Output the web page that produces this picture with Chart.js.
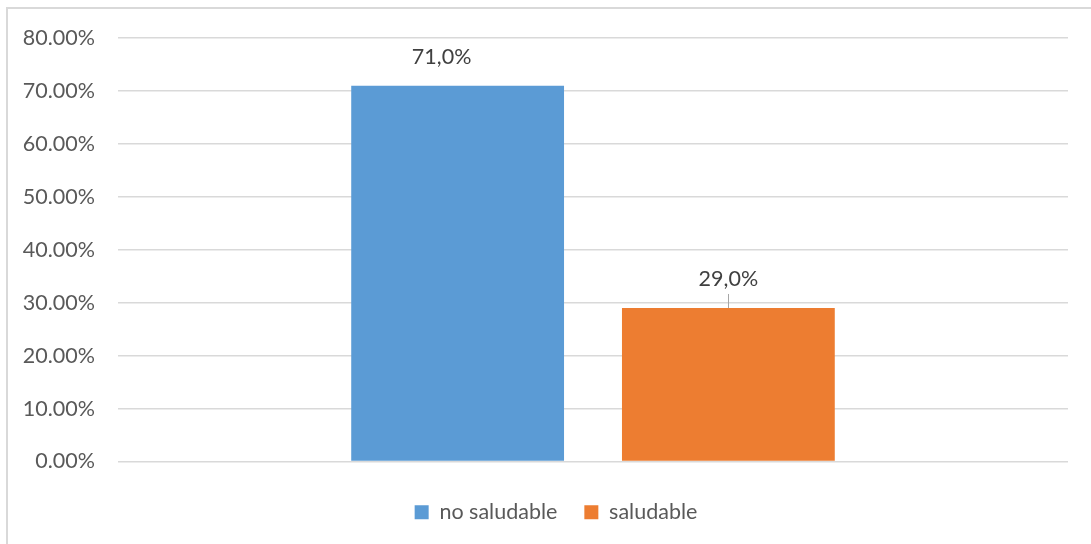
<!DOCTYPE html>
<html>
<head>
<meta charset="utf-8">
<script src="https://cdn.jsdelivr.net/npm/chart.js@4"></script>
<style>
  html, body { margin: 0; padding: 0; background: #fff; }
  #wrap { position: relative; width: 1091px; height: 544px; }
</style>
</head>
<body>
<div id="wrap"><canvas id="grafico"></canvas></div>
<script>
// datos del gráfico
const categorias = [''];
const series = ['no saludable', 'saludable'];
const valores = [71.0, 29.0];
const colores = ['#5b9bd5', '#ed7d31'];
const ejeY = { min: 0, max: 80, paso: 10 };

const fuente = 'Lato, "Liberation Sans", sans-serif';
const tam = 21.5;

// etiqueta con coma decimal: 71,0%
const formato = (v) => v.toFixed(1).replace('.', ',') + '%';

// marco gris arriba y a la izquierda
const marco = {
  id: 'marco',
  beforeDraw(chart) {
    const c = chart.ctx;
    c.save();
    c.strokeStyle = '#d9d9d9';
    c.lineWidth = 2;
    c.beginPath();
    c.moveTo(7, chart.height);
    c.lineTo(7, 8);
    c.lineTo(chart.width, 8);
    c.stroke();
    c.restore();
  },
  // la leyenda se centra un poco más a la derecha
  afterLayout(chart) {
    chart.legend.left += 44;
  }
};

// etiquetas de valor encima de cada barra
const etiquetas = {
  id: 'etiquetas',
  afterDatasetsDraw(chart) {
    const c = chart.ctx;
    c.save();
    c.font = tam + 'px ' + fuente;
    c.fillStyle = '#404040';
    c.textAlign = 'center';
    c.textBaseline = 'middle';
    chart.data.datasets.forEach((ds, i) => {
      chart.getDatasetMeta(i).data.forEach((bar, j) => {
        const dx = ds.desplazaX || 0;
        const y = bar.y - 29;
        c.fillText(formato(ds.data[j]), bar.x + dx, y);
        if (ds.guia) {
          // pequeña línea guía hasta la barra
          c.strokeStyle = '#a6a6a6';
          c.lineWidth = 1;
          c.beginPath();
          c.moveTo(Math.round(bar.x) + 0.5, y + 15);
          c.lineTo(Math.round(bar.x) + 0.5, bar.y);
          c.stroke();
        }
      });
    });
    c.restore();
  }
};

new Chart(document.getElementById('grafico'), {
  type: 'bar',
  data: {
    labels: categorias,
    datasets: series.map((nombre, i) => ({
      label: nombre,
      data: [valores[i]],
      backgroundColor: colores[i],
      categoryPercentage: 0.57,
      barPercentage: 0.786,
      desplazaX: i === 0 ? -16 : 0,
      guia: i === 1
    }))
  },
  options: {
    responsive: true,
    maintainAspectRatio: false,
    animation: false,
    layout: { padding: { top: 38, right: 23, left: 0, bottom: 11 } },
    plugins: {
      tooltip: { enabled: false },
      legend: {
        position: 'bottom',
        labels: {
          boxWidth: 14,
          boxHeight: 14,
          padding: 27,
          color: '#595959',
          font: { family: fuente, size: tam }
        }
      }
    },
    scales: {
      x: {
        grid: { display: false },
        border: { display: false },
        ticks: { display: false },
        afterFit: (s) => { s.height = 13; }
      },
      y: {
        min: ejeY.min,
        max: ejeY.max,
        ticks: {
          stepSize: ejeY.paso,
          padding: 23,
          color: '#595959',
          font: { family: fuente, size: tam },
          callback: (v) => v.toFixed(2) + '%'
        },
        grid: { color: '#d9d9d9', lineWidth: 1.5, drawTicks: false },
        border: { display: false },
        afterFit: (s) => { s.width = 118; }
      }
    }
  },
  plugins: [marco, etiquetas]
});
</script>
</body>
</html>
